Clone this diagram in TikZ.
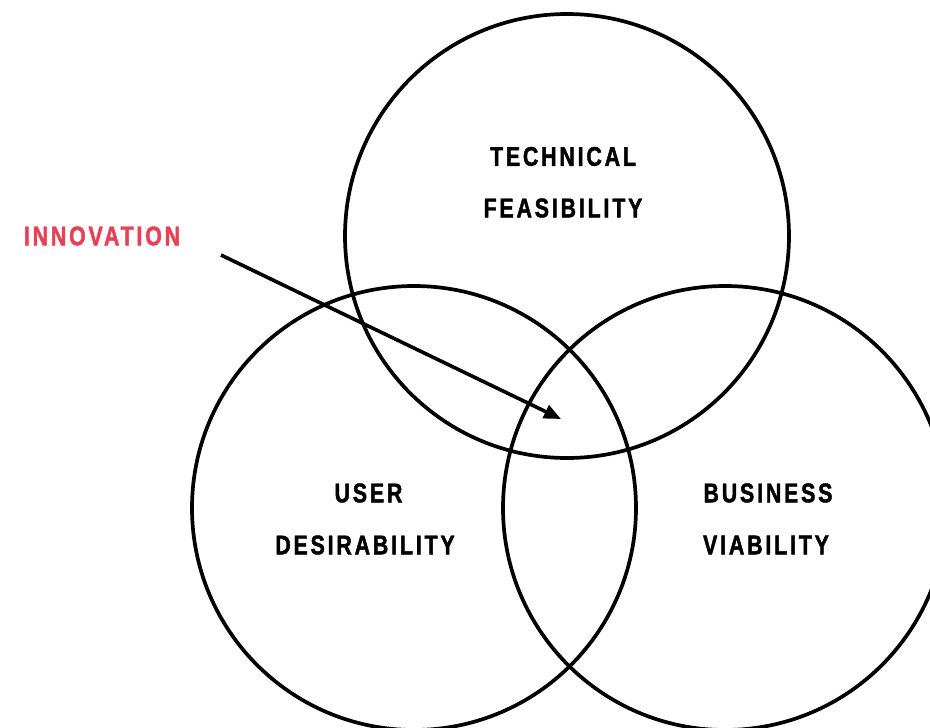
\documentclass[tikz,border=0pt]{standalone}
\usepackage{fontspec}
\newfontfamily\labelfont[FakeStretch=0.79,FakeBold=1.6,LetterSpace=10.5]{Liberation Sans Bold}
\usetikzlibrary{arrows.meta}
\definecolor{innored}{RGB}{232,64,87}
\tikzset{
  venn/.style={circle, draw=black, line width=3.7pt, minimum size=444pt, inner sep=0pt},
  lbl/.style={font=\labelfont\fontsize{27}{30}\selectfont, text=black, inner sep=0pt, anchor=center},
  pointer/.style={line width=3.6pt, -{Triangle[length=17pt,width=14pt]}}
}
\begin{document}
\begin{tikzpicture}[x=1pt,y=-1pt]
\useasboundingbox (0,0) rectangle (930,728);
\clip (0,0) rectangle (930,728);
\node[venn] (tech) at (567,236) {};
\node[venn] (user) at (414,508) {};
\node[venn] (biz) at (725,508) {};
\node[lbl] (t1) at (563,156.5) {TECHNICAL};
\node[lbl] (t2) at (563,208) {FEASIBILITY};
\node[lbl] (u1) at (368.5,493) {USER};
\node[lbl] (u2) at (365,545) {DESIRABILITY};
\node[lbl] (b1) at (768,493) {BUSINESS};
\node[lbl] (b2) at (766,545) {VIABILITY};
\node[lbl, text=innored] (inn) at (102,236) {INNOVATION};
\coordinate (arrstart) at (221,255);
\coordinate (arrend) at (561,419);
\draw[pointer] (arrstart) -- (arrend);
\end{tikzpicture}
\end{document}
